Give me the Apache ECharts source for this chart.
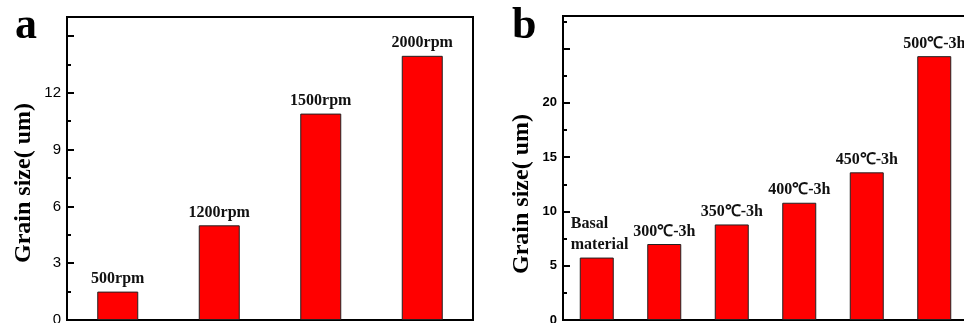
<!DOCTYPE html>
<html><head><meta charset="utf-8">
<script src="https://cdn.jsdelivr.net/npm/echarts@6/dist/echarts.min.js"></script>
<style>html,body{margin:0;padding:0;background:#fff}#c{width:964px;height:323px}</style>
</head><body><div id="c"></div>
<script>
const catsA = ['500rpm', '1200rpm', '1500rpm', '2000rpm'];
const valsA = [1.5, 5.0, 10.9, 13.95];
const ticksA = { min: 0, max: 16, interval: 3, shownMax: 12 };
const catsB = ['Basal\nmaterial', '300℃-3h', '350℃-3h', '400℃-3h', '450℃-3h', '500℃-3h'];
const valsB = [5.75, 7.0, 8.8, 10.8, 13.6, 24.3];
const ticksB = { min: 0, max: 28, interval: 5, shownMax: 20 };
const yTitle = 'Grain size( um)';
const panelLetters = ['a', 'b'];

const chart = echarts.init(document.getElementById('c'), null, {renderer: 'canvas'});
const serif = '"Liberation Serif","Times New Roman",serif';
const sans = '"Liberation Sans",Arial,sans-serif';

function yAx(idx, t, weight, size) {
  return {
    type: 'value', gridIndex: idx, min: t.min, max: t.max, interval: t.interval,
    axisLine: {show: true, lineStyle: {color: '#000', width: 2}},
    axisTick: {show: true, inside: true, length: 7, lineStyle: {color: '#000', width: 2}},
    minorTick: {show: true, splitNumber: 2, length: 4, lineStyle: {color: '#000', width: 2}},
    splitLine: {show: false},
    axisLabel: {
      margin: 6, color: '#000', fontFamily: sans, fontSize: size, fontWeight: weight,
      formatter: v => (v <= t.shownMax ? String(v) : '')
    }
  };
}
function xAx(idx, cats) {
  return {
    type: 'category', gridIndex: idx, data: cats, boundaryGap: true,
    axisLine: {show: true, lineStyle: {color: '#000', width: 2}},
    axisTick: {show: false}, axisLabel: {show: false}, splitLine: {show: false}
  };
}
const lblStyle = {show: true, position: 'top', distance: 2, color: '#111', fontFamily: serif, fontWeight: 'bold', fontSize: 16, lineHeight: 21};

const dataB = valsB.map((v, i) => i === 0
  ? {value: v, label: {align: 'left', offset: [-26, 0]}}
  : v);

chart.setOption({
  animation: false,
  grid: [
    {left: 67, top: 17, width: 406, bottom: 3, outerBoundsMode: 'none', containLabel: false, show: true, borderColor: '#000', borderWidth: 2, backgroundColor: 'transparent'},
    {left: 563, top: 16, width: 405, bottom: 3, outerBoundsMode: 'none', containLabel: false, show: true, borderColor: '#000', borderWidth: 2, backgroundColor: 'transparent'}
  ],
  xAxis: [xAx(0, catsA), xAx(1, catsB)],
  yAxis: [yAx(0, ticksA, 500, 15), yAx(1, ticksB, 'bold', 13)],
  series: [
    {type: 'bar', xAxisIndex: 0, yAxisIndex: 0, data: valsA, barWidth: 41,
     itemStyle: {color: '#ff0000', borderColor: '#222', borderWidth: 1},
     label: Object.assign({}, lblStyle, {formatter: p => catsA[p.dataIndex]})},
    {type: 'bar', xAxisIndex: 1, yAxisIndex: 1, data: dataB, barWidth: 34,
     itemStyle: {color: '#ff0000', borderColor: '#222', borderWidth: 1},
     label: Object.assign({}, lblStyle, {formatter: p => catsB[p.dataIndex]})}
  ],
  graphic: [
    {type: 'text', left: 15, top: 5, style: {text: panelLetters[0], font: 'bold 44px ' + serif, fill: '#000'}},
    {type: 'text', left: 512, top: 5, style: {text: panelLetters[1], font: 'bold 44px ' + serif, fill: '#000'}},
    {type: 'text', x: 24, y: 183, rotation: Math.PI / 2, style: {text: yTitle, font: 'bold 24px ' + serif, fill: '#000', align: 'center', verticalAlign: 'middle'}},
    {type: 'text', x: 522, y: 194, rotation: Math.PI / 2, style: {text: yTitle, font: 'bold 24px ' + serif, fill: '#000', align: 'center', verticalAlign: 'middle'}}
  ]
});
</script></body></html>
